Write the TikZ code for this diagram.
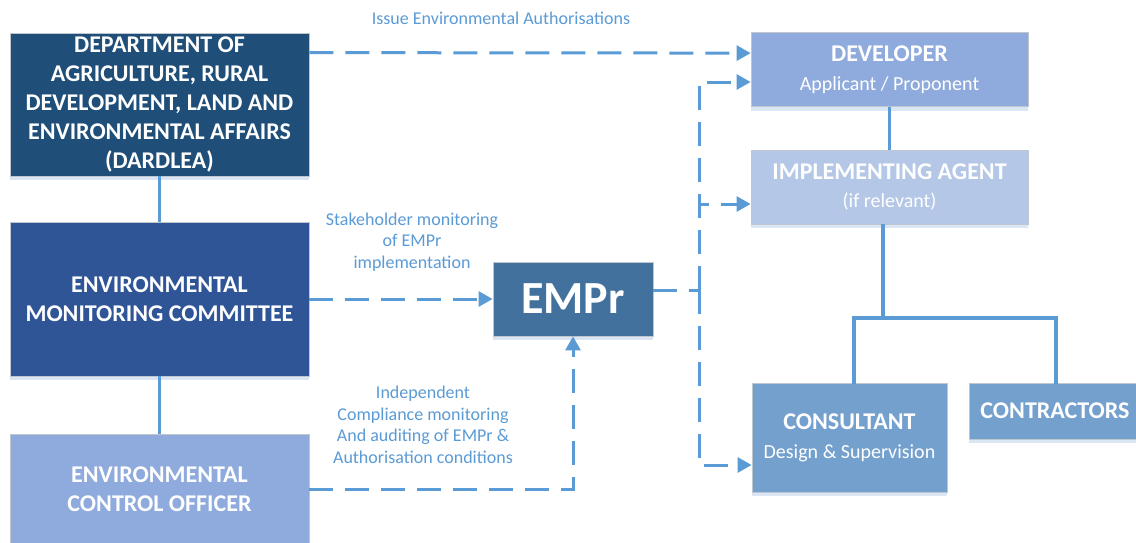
\documentclass[tikz,border=0pt]{standalone}
\usepackage{fontspec}
\setmainfont{Carlito}
\usetikzlibrary{arrows.meta,shadows,calc}
\definecolor{cdard}{HTML}{1F4E79}
\definecolor{cemc}{HTML}{2F5597}
\definecolor{ceco}{HTML}{8FAADC}
\definecolor{cempr}{HTML}{41719C}
\definecolor{cdev}{HTML}{8FAADC}
\definecolor{cia}{HTML}{B4C7E7}
\definecolor{ccons}{HTML}{74A0CE}
\definecolor{cline}{HTML}{5B9BD5}
\definecolor{cshadow}{HTML}{DAE6F3}
\definecolor{cborder}{HTML}{C0C6CE}
\begin{document}
\begin{tikzpicture}[x=1pt,y=-1pt,
  box/.style={draw=cborder,line width=0.8pt,text=white,align=center,inner sep=0pt,
    general shadow={fill=cshadow,shadow xshift=0pt,shadow yshift=-4pt}},
  big/.style={font=\fontsize{24}{29}\selectfont\bfseries},
  two/.style={font=\fontsize{20}{29}\selectfont},
  ttl/.style={},
  lbl/.style={text=cline,align=center,font=\fontsize{18}{21.5}\selectfont},
  conn/.style={draw=cline,line width=3.5pt},
  dsh/.style={draw=cline,line width=3pt,dash pattern=on 24pt off 12pt},
  arr/.style={-{Triangle[length=14pt,width=15pt]}}
]
\newcommand{\ttlfont}{\fontsize{24}{29}\selectfont\bfseries}
\clip (0,0) rectangle (1136,542);
\fill[white] (0,0) rectangle (1136,542);
% boxes
\node[box,fill=cdard,big,minimum width=299pt,minimum height=143pt] (dard) at (159.5,104.5)
  {DEPARTMENT OF\\AGRICULTURE, RURAL\\DEVELOPMENT, LAND AND\\ENVIRONMENTAL AFFAIRS\\(DARDLEA)};
\node[box,fill=cemc,big,minimum width=299pt,minimum height=154pt] (emc) at (159.5,299)
  {ENVIRONMENTAL\\MONITORING COMMITTEE};
\node[box,fill=ceco,big,minimum width=299pt,minimum height=110pt] (eco) at (159.5,489)
  {ENVIRONMENTAL\\CONTROL OFFICER};
\node[box,fill=cempr,minimum width=160pt,minimum height=74pt,font=\fontsize{46}{50}\selectfont\bfseries] (empr) at (573,299) {EMPr};
\node[box,fill=cdev,two,minimum width=277pt,minimum height=74pt] (dev) at (889.5,69.5)
  {{\ttlfont DEVELOPER}\\Applicant / Proponent};
\node[box,fill=cia,font=\fontsize{20}{28}\selectfont,minimum width=277pt,minimum height=74pt] (ia) at (889.5,187)
  {{\ttlfont IMPLEMENTING AGENT}\\(if relevant)};
\node[box,fill=ccons,two,minimum width=195pt,minimum height=109pt] (cons) at (849.5,437.5)
  {{\ttlfont CONSULTANT}\\Design \& Supervision};
\node[box,fill=ccons,minimum width=172pt,minimum height=56pt,font=\ttlfont] (contr) at (1055,411) {CONTRACTORS};
% solid connectors
\draw[conn] (dard.south) -- (emc.north);
\draw[conn] (emc.south) -- (eco.north);
\draw[conn] (dev.south) -- (ia.north);
\coordinate (j) at (883,318);
\draw[conn] ($(ia.south)+(-6.5,0)$) -- (j);
\draw[conn,line cap=rect] ($(cons.north)+(4.5,0)$) |- (j) -| ($(contr.north)+(1,0)$);
% dashed connectors
\draw[dsh,arr] ($(dard.north east)+(0,20)$) -- ($(dev.north west)+(0,21)$);
\draw[dsh,arr] (emc.east) -- (empr.west);
\draw[dsh,arr] (eco.east) -| (empr.south);
\coordinate (v) at (699,290);
\draw[dsh] ($(empr.east)+(0,-9)$) -- (v);
\draw[dsh,arr] (v) |- ($(dev.west)+(0,12.5)$);
\draw[dsh,arr] (v) |- ($(ia.west)+(0,17)$);
\draw[dsh,arr] (v) |- ($(cons.west)+(0,27.5)$);
% labels
\node[lbl] (l1) at (501,18) {Issue Environmental Authorisations};
\node[lbl] (l2) at (412,242) {Stakeholder monitoring\\of EMPr\\implementation};
\node[lbl] (l3) at (423,425) {Independent\\Compliance monitoring\\And auditing of EMPr \&\\Authorisation conditions};
\end{tikzpicture}
\end{document}
